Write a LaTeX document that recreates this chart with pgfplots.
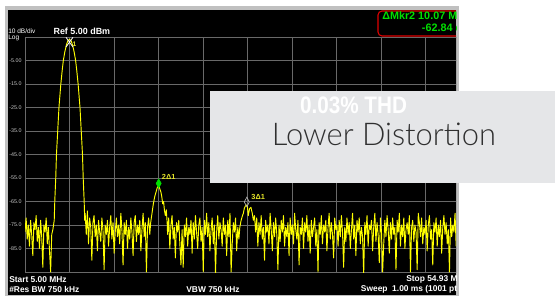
\documentclass[border=0pt]{standalone}
\usepackage{pgfplots}
\pgfplotsset{compat=1.18}
\usepackage{fontspec}
\setmainfont{Liberation Sans}
\IfFontExistsTF{Lato Light}{\newfontfamily\thinfont{Lato Light}}{\newfontfamily\thinfont{Lato}}
\definecolor{framec}{RGB}{192,192,192}
\definecolor{gridc}{RGB}{105,105,105}
\definecolor{trace}{RGB}{255,255,0}
\definecolor{mkgreen}{RGB}{0,225,0}
\definecolor{boxgray}{RGB}{229,230,232}
\definecolor{darktext}{RGB}{48,48,48}
\definecolor{lbl}{RGB}{200,200,200}
\definecolor{mkred}{RGB}{225,0,0}
\definecolor{mkyel}{RGB}{230,230,40}
\begin{document}
\begin{tikzpicture}[x=0.75pt,y=0.75pt]
\useasboundingbox (0,0) rectangle (555,296);
\fill[white] (0,0) rectangle (555,296);
\fill[framec] (5,0) rectangle (459,290);
\fill[black] (8,1) rectangle (456,286);
\begin{scope}
\clip (8,1) rectangle (456,286);
\begin{axis}[
  at={(18.75pt,18pt)}, anchor=south west,
  scale only axis, width=333.75pt, height=176.25pt,
  xmin=5, xmax=54.93, ymin=-95, ymax=5,
  xtick={5,9.993,14.986,19.979,24.972,29.965,34.958,39.951,44.944,49.937,54.93},
  xticklabels=\empty,
  ytick={-95,-85,-75,-65,-55,-45,-35,-25,-15,-5,5},
  yticklabels={,-85.0,-75.0,-65.0,-55.0,-45.0,-35.0,-25.0,-15.0,-5.00,},
  yticklabel style={font=\fontsize{4}{4}\selectfont, text=lbl, inner sep=0pt, xshift=-2.4pt},
  major tick length=0pt,
  grid=major,
  major grid style={gridc, line width=0.6pt},
  axis line style={gridc, line width=0.6pt},
  axis background/.style={fill=black},
  clip=true,
]
\addplot[trace, line width=0.7pt, line join=round] coordinates {
(5.000,-78) (5.125,-72) (5.250,-81) (5.375,-75) (5.500,-84) (5.625,-73) (5.750,-79) (5.875,-88) (6.000,-74) (6.125,-77)
(6.250,-71) (6.375,-82) (6.500,-76) (6.625,-85) (6.750,-73) (6.875,-80) (7.000,-93) (7.125,-75) (7.250,-78) (7.375,-72)
(7.500,-83) (7.625,-76) (7.750,-86) (7.875,-95) (8.000,-79) (8.125,-77)
(8.28,-73) (8.34,-65) (8.45,-55) (8.53,-45) (8.67,-35) (8.81,-25) (9.02,-15) (9.18,-9) (9.30,-5) (9.46,-1.5) (9.64,1.6) (9.81,3.4) (9.99,4)
(10.17,3.4) (10.34,1.6) (10.52,-1.5) (10.68,-5) (10.80,-9) (10.96,-15) (11.17,-25) (11.31,-35) (11.45,-45) (11.53,-55) (11.64,-65) (11.70,-73)
(11.750,-70) (11.875,-79) (12.000,-69) (12.125,-83) (12.250,-72) (12.375,-76) (12.500,-90) (12.625,-74) (12.750,-71) (12.875,-80)
(13.000,-75) (13.125,-86) (13.250,-73) (13.375,-78) (13.500,-82) (13.625,-72) (13.750,-77) (13.875,-94) (14.000,-75) (14.125,-79)
(14.250,-73) (14.375,-84) (14.500,-76) (14.625,-71) (14.750,-81) (14.875,-74) (15.000,-87) (15.125,-78) (15.250,-72) (15.375,-80)
(15.500,-75) (15.625,-83) (15.750,-70) (15.875,-77) (16.000,-92) (16.125,-74) (16.250,-79) (16.375,-73) (16.500,-85) (16.625,-76)
(16.750,-81) (16.875,-72) (17.000,-78) (17.125,-88) (17.250,-74) (17.375,-71) (17.500,-82) (17.625,-75) (17.750,-79) (17.875,-73)
(18.000,-86) (18.125,-77) (18.250,-70) (18.375,-80) (18.500,-74) (18.625,-95) (18.750,-76) (18.875,-72) (19.000,-79)
(19.10,-74) (19.25,-70) (19.40,-66) (19.55,-63) (19.70,-61) (19.85,-59) (20.00,-58.3) (20.12,-59.5) (20.25,-61) (20.35,-63)
(20.45,-66) (20.55,-65) (20.65,-69) (20.75,-71) (20.85,-68.5) (20.95,-74)
(21.000,-79) (21.125,-72) (21.250,-85) (21.375,-75) (21.500,-71) (21.625,-81) (21.750,-76) (21.875,-89) (22.000,-74) (22.125,-78)
(22.250,-73) (22.375,-83) (22.500,-92) (22.625,-77) (22.750,-93) (22.875,-75) (23.000,-80) (23.125,-72) (23.250,-84) (23.375,-76)
(23.500,-79) (23.625,-73) (23.750,-87) (23.875,-74) (24.000,-81) (24.125,-71) (24.250,-78) (24.375,-85) (24.500,-75) (24.625,-72)
(24.750,-82) (24.875,-76) (25.000,-95) (25.125,-73) (25.250,-79) (25.375,-70) (25.500,-80) (25.625,-74) (25.750,-86) (25.875,-77)
(26.000,-72) (26.125,-83) (26.250,-75) (26.375,-96) (26.500,-78) (26.625,-71) (26.750,-81) (26.875,-74) (27.000,-77) (27.125,-84)
(27.250,-72) (27.375,-79) (27.500,-75) (27.625,-88) (27.750,-73) (27.875,-80) (28.000,-70) (28.125,-95) (28.250,-83) (28.375,-74)
(28.500,-78) (28.625,-72) (28.750,-86) (28.875,-76) (29.000,-81)
(29.10,-76) (29.25,-73) (29.40,-71) (29.50,-70) (29.60,-68) (29.72,-67) (29.85,-66.5) (29.95,-67) (30.05,-71) (30.20,-68)
(30.35,-67.5) (30.50,-70) (30.62,-73) (30.75,-71)
(30.875,-78) (31.000,-72) (31.125,-84) (31.250,-74) (31.375,-79) (31.500,-71) (31.625,-81) (31.750,-76) (31.875,-90) (32.000,-73)
(32.125,-78) (32.250,-75) (32.375,-83) (32.500,-70) (32.625,-77) (32.750,-86) (32.875,-74) (33.000,-80) (33.125,-72) (33.250,-79)
(33.375,-94) (33.500,-75) (33.625,-82) (33.750,-73) (33.875,-78) (34.000,-71) (34.125,-84) (34.250,-76) (34.375,-80) (34.500,-74)
(34.625,-88) (34.750,-72) (34.875,-79) (35.000,-75) (35.125,-83) (35.250,-70) (35.375,-77) (35.500,-81) (35.625,-73) (35.750,-92)
(35.875,-76) (36.000,-79) (36.125,-72) (36.250,-85) (36.375,-74) (36.500,-78) (36.625,-71) (36.750,-82) (36.875,-75) (37.000,-87)
(37.125,-73) (37.250,-80) (37.375,-76) (37.500,-72) (37.625,-84) (37.750,-77) (37.875,-95) (38.000,-74) (38.125,-79) (38.250,-71)
(38.375,-83) (38.500,-75) (38.625,-78) (38.750,-73) (38.875,-86) (39.000,-76) (39.125,-70) (39.250,-81) (39.375,-74) (39.500,-79)
(39.625,-89) (39.750,-72) (39.875,-77) (40.000,-75) (40.125,-84) (40.250,-73) (40.375,-80) (40.500,-71) (40.625,-78) (40.750,-93)
(40.875,-76) (41.000,-82) (41.125,-72) (41.250,-79) (41.375,-74) (41.500,-85) (41.625,-77) (41.750,-70) (41.875,-81) (42.000,-75)
(42.125,-88) (42.250,-73) (42.375,-78) (42.500,-72) (42.625,-83) (42.750,-76) (42.875,-80) (43.000,-96) (43.125,-74) (43.250,-79)
(43.375,-71) (43.500,-84) (43.625,-75) (43.750,-77) (43.875,-73) (44.000,-86) (44.125,-76) (44.250,-70) (44.375,-82) (44.500,-74)
(44.625,-79) (44.750,-91) (44.875,-72) (45.000,-78) (45.125,-95) (45.250,-83) (45.375,-73) (45.500,-80) (45.625,-71) (45.750,-77)
(45.875,-87) (46.000,-74) (46.125,-81) (46.250,-72) (46.375,-79) (46.500,-76) (46.625,-94) (46.750,-73) (46.875,-78) (47.000,-70)
(47.125,-84) (47.250,-75) (47.375,-80) (47.500,-72) (47.625,-85) (47.750,-77) (47.875,-74) (48.000,-79) (48.125,-71) (48.250,-95)
(48.375,-76) (48.500,-73) (48.625,-82) (48.750,-75) (48.875,-78) (49.000,-94) (49.125,-70) (49.250,-74) (49.375,-80) (49.500,-72)
(49.625,-83) (49.750,-76) (49.875,-79) (50.000,-73) (50.125,-86) (50.250,-75) (50.375,-71) (50.500,-81) (50.625,-77) (50.750,-92)
(50.875,-74) (51.000,-78) (51.125,-72) (51.250,-84) (51.375,-75) (51.500,-80) (51.625,-73) (51.750,-87) (51.875,-76) (52.000,-71)
(52.125,-79) (52.250,-74) (52.375,-83) (52.500,-77) (52.625,-95) (52.750,-72) (52.875,-80) (53.000,-75) (53.125,-78) (53.250,-70)
(53.375,-84) (53.500,-76) (53.625,-81) (53.750,-73) (53.875,-88) (54.000,-74) (54.125,-79) (54.250,-72) (54.375,-83) (54.500,-76)
(54.625,-80) (54.750,-71) (54.875,-85) (54.930,-77)
};
\addplot[only marks, mark=x, mark size=3.7pt, mark options={yscale=1.4, draw=white, line width=0.6pt}] coordinates {(9.99,2.8)};
\addplot[only marks, mark=diamond*, mark size=3.4pt, mark options={xscale=0.75, draw=mkgreen, fill=mkgreen}] coordinates {(20.0,-57.3)};
\addplot[only marks, mark=diamond, mark size=3.6pt, mark options={xscale=0.7, draw=gray!60!white, line width=0.5pt}] coordinates {(29.89,-65.2)};
\node[text=mkyel, font=\bfseries\fontsize{5}{5}\selectfont, inner sep=0pt] at (axis cs:10.54,1.8) {1};
\node[text=mkyel, font=\bfseries\fontsize{5.5}{5.5}\selectfont, inner sep=0pt, anchor=west] at (axis cs:20.34,-54.6) {2Δ1};
\node[text=mkyel, font=\bfseries\fontsize{5.5}{5.5}\selectfont, inner sep=0pt, anchor=west] at (axis cs:30.38,-63.2) {3Δ1};
\end{axis}
\node[anchor=west, text=white, font=\fontsize{4.9}{5}\selectfont, inner sep=0pt] at (8,265) {10 dB/div};
\node[anchor=west, text=white, font=\fontsize{4.9}{5}\selectfont, inner sep=0pt] at (8,258.2) {Log};
\node[anchor=west, text=white, font=\bfseries\fontsize{6.7}{7}\selectfont, inner sep=0pt] at (53.3,264.3) {Ref 5.00 dBm};
\node[anchor=west, text=white, font=\bfseries\fontsize{6.3}{7}\selectfont, inner sep=0pt] at (9,16.8) {Start 5.00 MHz};
\node[anchor=west, text=white, font=\bfseries\fontsize{6.3}{7}\selectfont, inner sep=0pt] at (9,6.8) {\#Res BW 750 kHz};
\node[anchor=center, text=white, font=\bfseries\fontsize{6.3}{7}\selectfont, inner sep=0pt] at (213,6.8) {VBW 750 kHz};
\node[anchor=west, text=white, font=\bfseries\fontsize{6.3}{7}\selectfont, inner sep=0pt] at (406,16.8) {Stop 54.93 MHz};
\node[anchor=west, text=white, font=\bfseries\fontsize{6.3}{7}\selectfont, inner sep=0pt] at (360.7,6.8) {Sweep\ \ 1.00 ms (1001 pts)};
\draw[mkred, rounded corners=3pt, line width=0.8pt] (378,285) rectangle (490,260);
\node[anchor=west, text=mkgreen, font=\bfseries\fontsize{8.1}{8.5}\selectfont, inner sep=0pt] at (382,280) {ΔMkr2 10.07 MHz};
\node[anchor=west, text=mkgreen, font=\bfseries\fontsize{8.1}{8.5}\selectfont, inner sep=0pt] at (421.7,268.5) {-62.84 dB};
\end{scope}
\fill[boxgray] (210,113) rectangle (555,205);
\node[inner sep=0pt, text=white] at (353.5,191) {\resizebox{80.25pt}{12.5pt}{\bfseries 0.03\% THD}};
\node[inner sep=0pt, text=darktext] at (384,161.5) {\resizebox{168pt}{16.9pt}{\thinfont Lower Distortion}};
\end{tikzpicture}
\end{document}
